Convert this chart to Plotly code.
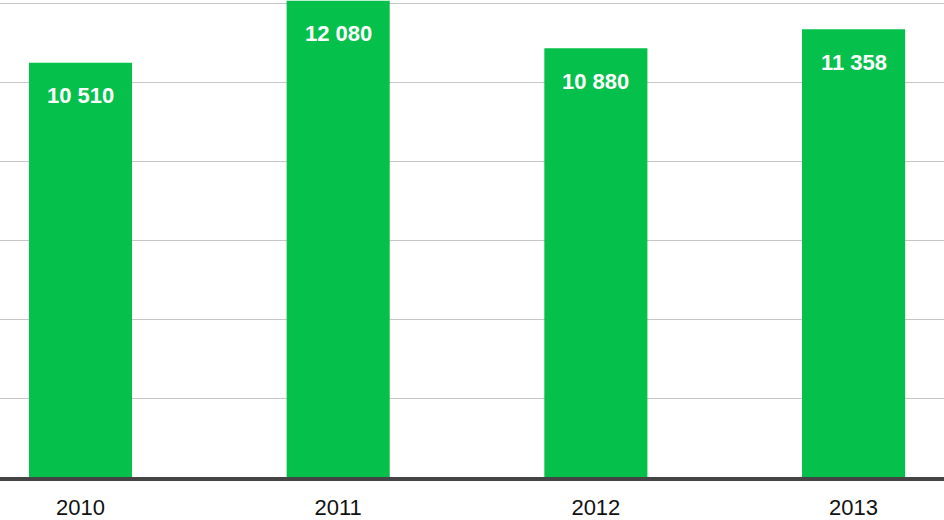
import plotly.graph_objects as go

years = ["2010", "2011", "2012", "2013"]
values = [10510, 12080, 10880, 11358]
labels = ["10 510", "12 080", "10 880", "11 358"]

GREEN = "#05C14B"

fig = go.Figure(
    go.Bar(
        x=years,
        y=values,
        width=0.4,
        marker=dict(color=GREEN, line=dict(width=0)),
        hoverinfo="skip",
    )
)

# value labels sit inside the bar, a bit below its top
# (x given as category index, "2010" would be read as a number)
for i, (v, lab) in enumerate(zip(values, labels)):
    fig.add_annotation(
        x=i, y=v, text=lab, showarrow=False,
        yanchor="middle", yshift=-33,
        font=dict(family="Liberation Sans, Arial, sans-serif", size=22, color="white", weight="bold"),
    )

fig.update_layout(
    width=944,
    height=520,
    margin=dict(l=0, r=0, t=0, b=43),
    plot_bgcolor="white",
    paper_bgcolor="white",
    showlegend=False,
    font=dict(family="Liberation Sans, Arial, sans-serif", size=22, color="#111"),
)

fig.update_xaxes(
    type="category",
    range=[-0.3124, 3.351],
    automargin=False,
    showgrid=False,
    showline=True,
    linecolor="#444",
    linewidth=4,
    ticks="",
    ticklabelstandoff=8,
    tickfont=dict(size=22, color="#111"),
)

fig.update_yaxes(
    range=[0, 12101],
    dtick=2000,
    automargin=False,
    showgrid=True,
    gridcolor="#c6c6c6",
    gridwidth=1,
    zeroline=False,
    showticklabels=False,
    ticks="",
)

# drop the browser's default body margin so the figure sits at 0,0
fig.write_html(
    "out.html",
    config={"displayModeBar": False},
    post_script="document.body.style.margin='0';document.body.style.overflow='hidden';",
)
